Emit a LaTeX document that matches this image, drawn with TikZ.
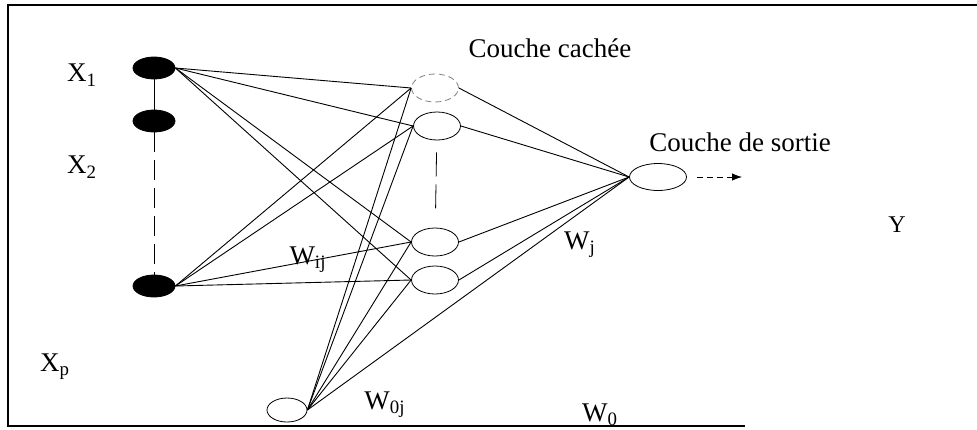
\documentclass[tikz,border=0pt]{standalone}
\usepackage{fontspec}
\setmainfont{Liberation Serif}
\usetikzlibrary{shapes.geometric,arrows.meta}

\begin{document}
\begin{tikzpicture}[x=0.5pt,y=-0.5pt,
  inp/.style={ellipse,draw,fill=black,minimum width=21pt,minimum height=11pt,inner sep=0pt},
  hid/.style={ellipse,draw,minimum width=23.5pt,minimum height=14pt,inner sep=0pt},
  lbl/.style={font=\fontsize{13.5}{15}\selectfont},
  link/.style={line width=0.45pt}]
\useasboundingbox (0,0) rectangle (977,429);
\draw[line width=0.6pt] (977,5) -- (8,5) -- (8,426) -- (745,426);
% entrees
\node[inp] (x1) at (154,68) {};
\node[inp] (x2) at (154,121) {};
\node[inp] (xp) at (154,286) {};
\draw (x1) -- (x2);
\draw[dash pattern=on 10pt off 4pt] (x2) -- (xp);
% couche cachee, biais et sortie
\node[hid,densely dashed,draw=gray] (h1) at (435,88) {};
\node[hid] (h2) at (437,126) {};
\node[hid] (h3) at (435,242) {};
\node[hid] (h4) at (435,280) {};
\draw[dash pattern=on 12pt off 4pt,shorten <=6pt,shorten >=6pt] (h2) -- (h3);
\node[hid,minimum width=20pt,minimum height=12pt] (b) at (287,410) {};
\node[hid,minimum width=28.5pt,minimum height=13.5pt] (out) at (658,177) {};
\coordinate (yend) at (742,177);
\draw[densely dashed,-{Latex[length=5pt]},shorten <=5pt] (out) -- (yend);
% poids
\foreach \s in {x1,xp}
  \foreach \t in {h1,h2,h3,h4}
    \draw[link] (\s.east) -- (\t.west);
\foreach \t in {h1,h2,h3,h4}
  \draw[link] (b.east) -- (\t.west);
\foreach \t in {h1,h2,h3,h4}
  \draw[link] (\t.east) -- (out.west);
\draw[link] (b.east) -- (out.west);
% textes
\node[lbl] (lx1) at (82,75) {X\textsubscript{1}};
\node[lbl] (lx2) at (82,167) {X\textsubscript{2}};
\node[lbl] (lxp) at (55,367) {X\textsubscript{p}};
\node[lbl] (lcc) at (550,48) {Couche cachée};
\node[lbl] (lcs) at (740,142) {Couche de sortie};
\node[font=\fontsize{12}{14}\selectfont] (ly) at (897,225) {Y};
\node[lbl] (lwij) at (308,260) {W\textsubscript{ij}};
\node[lbl] (lwj) at (580,245) {W\textsubscript{j}};
\node[lbl] (lw0j) at (385,405) {W\textsubscript{0j}};
\node[lbl] (lw0) at (600,415) {W\textsubscript{0}};
\end{tikzpicture}
\end{document}
